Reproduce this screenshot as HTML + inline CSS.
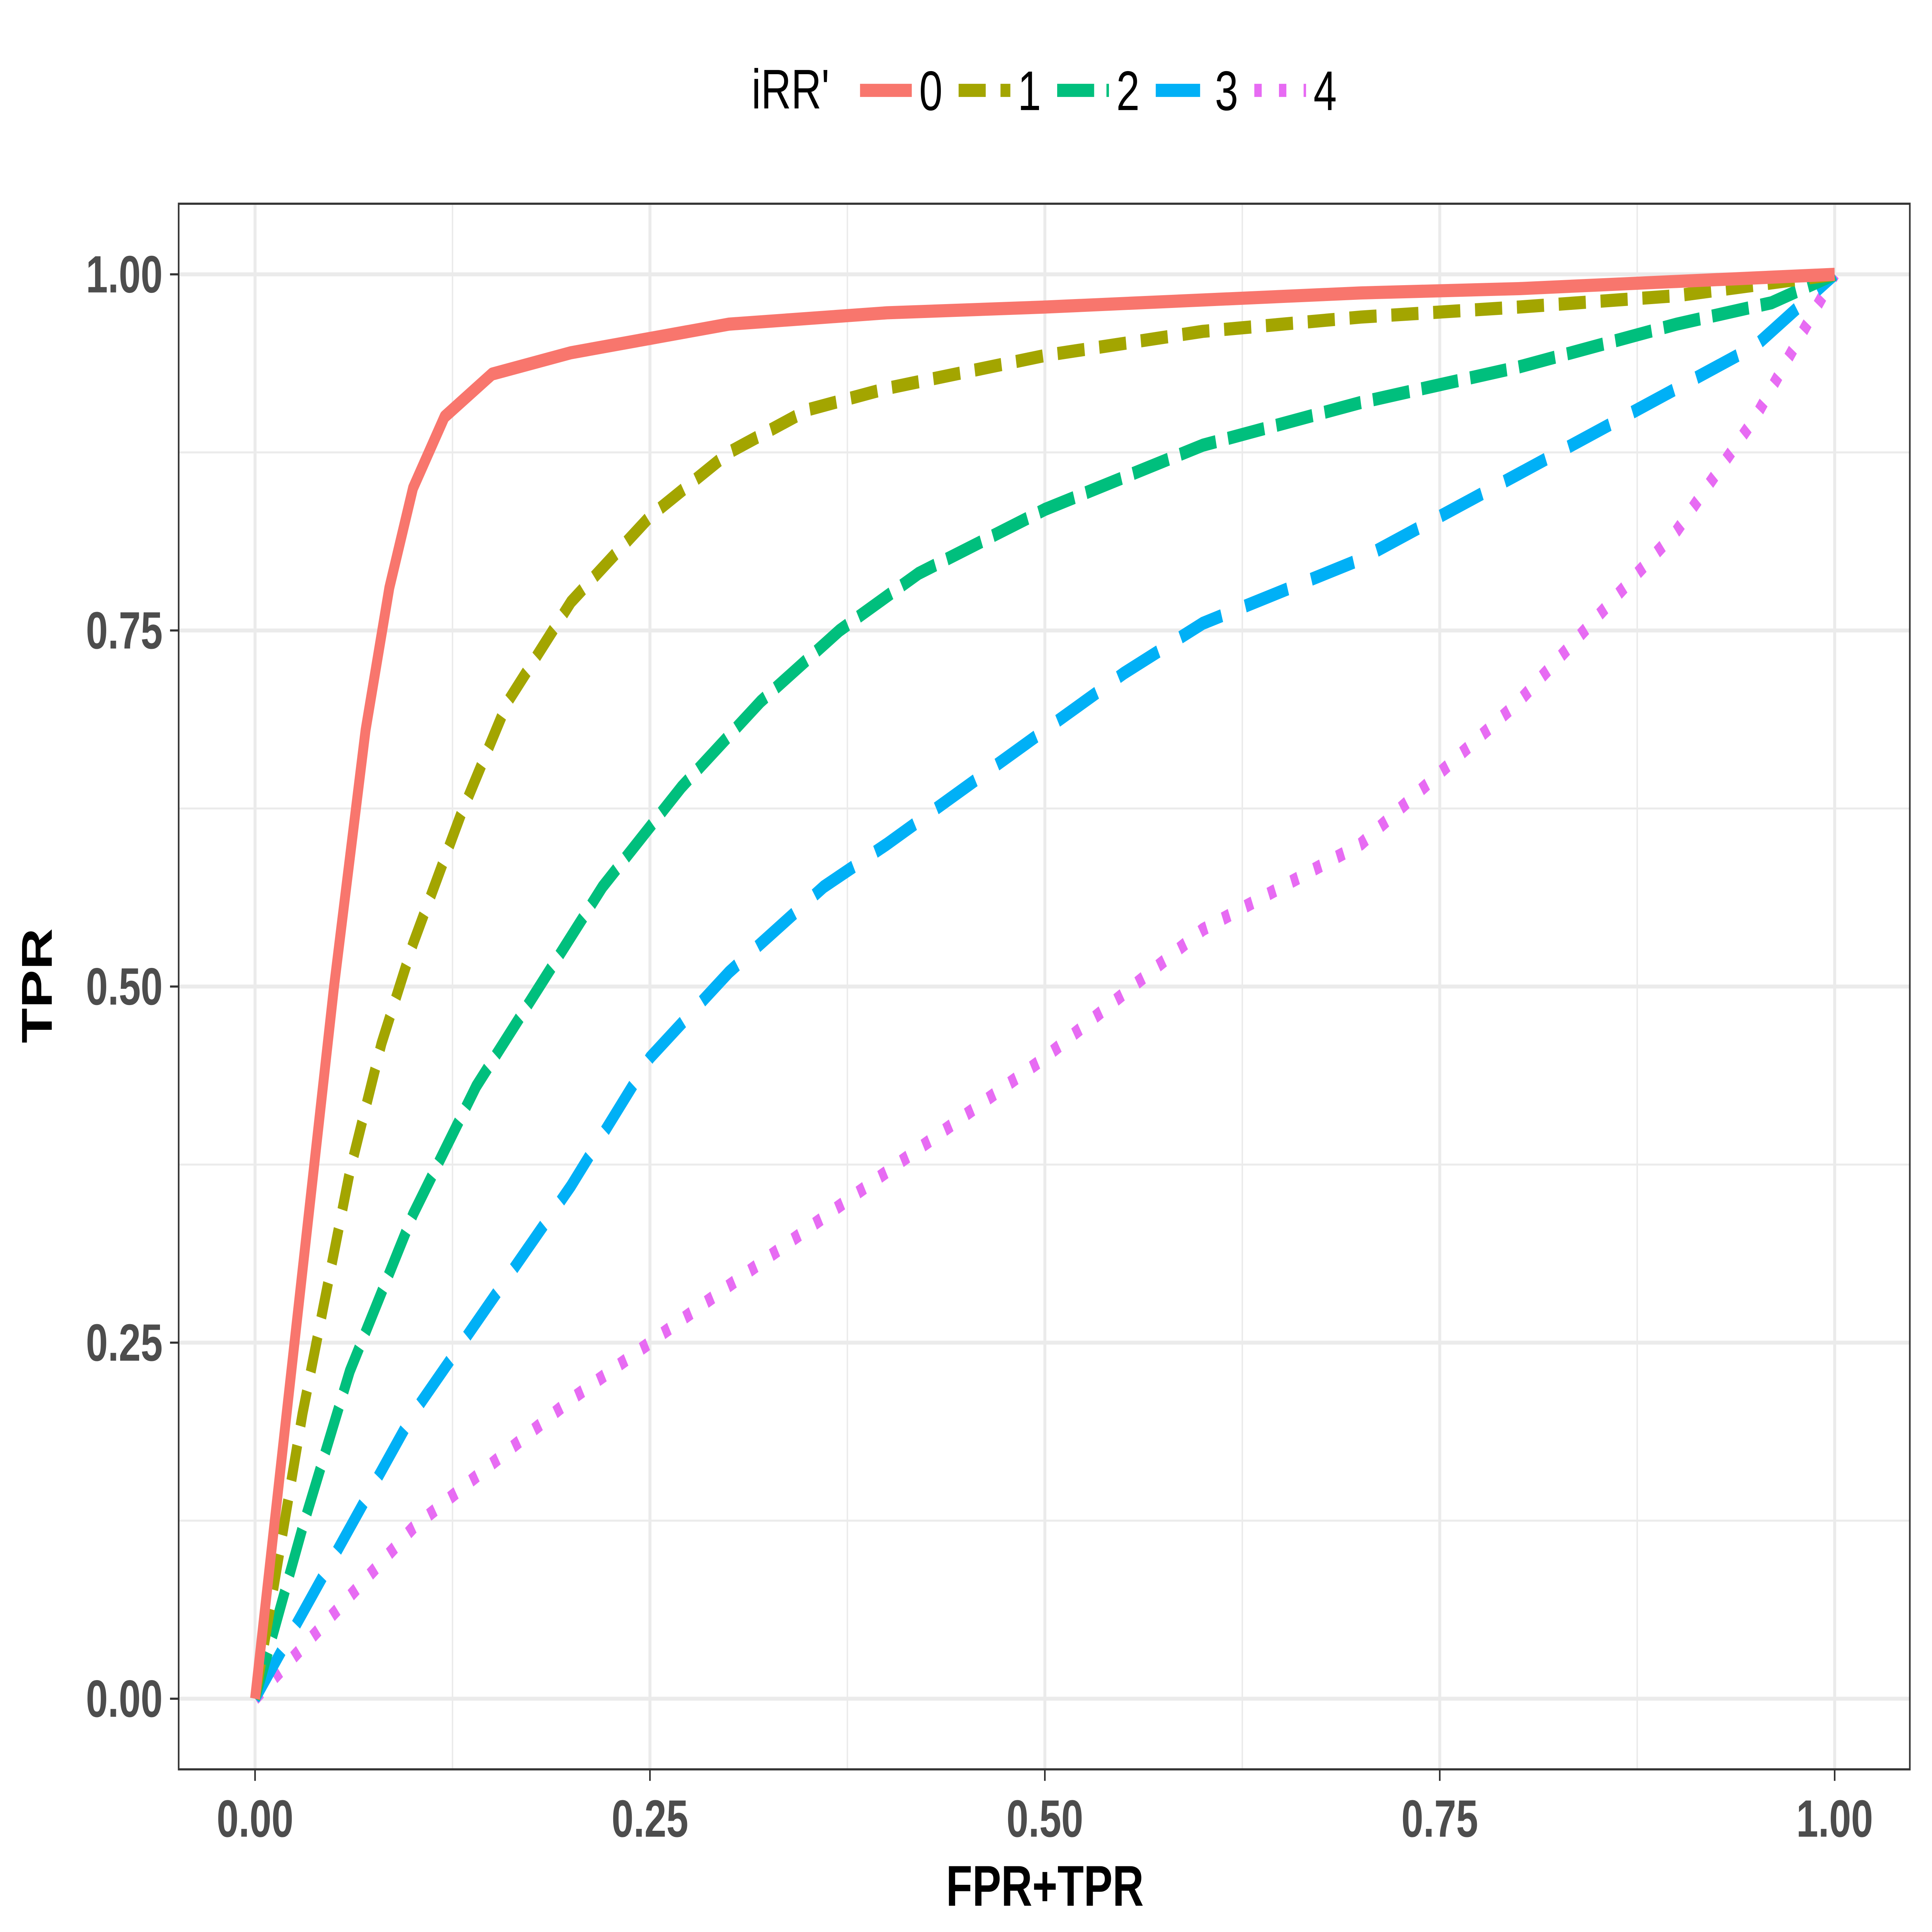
<!DOCTYPE html>
<html><head><meta charset="utf-8"><style>html,body{margin:0;padding:0;background:#fff;width:100vw;height:100vh;overflow:hidden}svg{display:block;width:100vw;height:100vh}</style></head>
<body>
<svg id="chart" viewBox="0 0 1568 1176" preserveAspectRatio="none" xmlns="http://www.w3.org/2000/svg" font-family="Liberation Sans, sans-serif">
<rect width="1568" height="1176" fill="#fff"/>
<g id="grid"></g>
<g id="series"></g>
<rect x="145" y="124" width="1405" height="953" fill="none" stroke="#333" stroke-width="1.3"/>
<g id="ticks"></g>
<text x="848" y="1160" text-anchor="middle" font-size="35" font-weight="bold">FPR+TPR</text>
<text transform="translate(42,600) rotate(-90)" text-anchor="middle" font-size="35" font-weight="bold">TPR</text>
<g id="legend"><text x="610" y="66" font-size="34">iRR'</text></g>
</svg>
<script>
const tickVals=[0,0.25,0.5,0.75,1];
const tickLabels=["0.00","0.25","0.50","0.75","1.00"];
const minorVals=[0.125,0.375,0.625,0.875];
const seriesNames=["0","1","2","3","4"];
const s0x=[0,0.02,0.05,0.07,0.085,0.1,0.12,0.15,0.2,0.25,0.3,0.4,0.5,0.6,0.7,0.8,0.9,1];
const s0y=[0,0.2,0.5,0.68,0.78,0.85,0.9,0.93,0.945,0.955,0.965,0.973,0.977,0.982,0.987,0.99,0.995,1];
const s1x=[0,0.03,0.06,0.08,0.1,0.13,0.16,0.2,0.25,0.3,0.35,0.4,0.5,0.6,0.7,0.8,0.9,1];
const s1y=[0,0.2,0.37,0.46,0.53,0.62,0.7,0.77,0.83,0.875,0.905,0.92,0.943,0.96,0.97,0.977,0.985,1];
const s2x=[0,0.03,0.06,0.1,0.14,0.18,0.22,0.27,0.32,0.37,0.42,0.5,0.6,0.7,0.8,0.9,0.96,1];
const s2y=[0,0.12,0.23,0.34,0.43,0.5,0.57,0.64,0.7,0.75,0.79,0.835,0.88,0.91,0.935,0.965,0.98,1];
const s3x=[0,0.05,0.1,0.15,0.2,0.25,0.3,0.36,0.4,0.45,0.5,0.55,0.6,0.7,0.8,0.85,0.9,0.95,1];
const s3y=[0,0.1,0.2,0.28,0.36,0.45,0.51,0.57,0.6,0.64,0.68,0.72,0.755,0.8,0.86,0.89,0.92,0.95,1];
const s4x=[0,0.1,0.2,0.3,0.4,0.5,0.6,0.7,0.8,0.85,0.9,0.95,1];
const s4y=[0,0.12,0.21,0.29,0.37,0.45,0.54,0.6,0.7,0.76,0.82,0.9,1];
const colors=["#F8766D","#A3A500","#00BF7D","#00B0F6","#E76BF3"];
const dashes=["","22,12","30,10","36,20","6,14"];
const xs=[s0x,s1x,s2x,s3x,s4x], ys=[s0y,s1y,s2y,s3y,s4y];
const X=v=>207+v*(1489-207), Y=v=>1034-v*(1034-167);
const NS="http://www.w3.org/2000/svg";
function mk(t,a,p){const e=document.createElementNS(NS,t);for(const k in a)e.setAttribute(k,a[k]);p.appendChild(e);return e;}
const grid=document.getElementById('grid');
minorVals.forEach(v=>{
 let l=mk('line',{x1:X(v),x2:X(v),y1:124,y2:1077,stroke:'#ebebeb','stroke-width':1.2},grid);
 
 
 l=mk('line',{x1:145,x2:1550,y1:Y(v),y2:Y(v),stroke:'#ebebeb','stroke-width':1.2},grid);
 
 
});
const ticks=document.getElementById('ticks');
tickVals.forEach((v,i)=>{
 let l=mk('line',{x1:X(v),x2:X(v),y1:124,y2:1077,stroke:'#ebebeb','stroke-width':2.4},grid);
 
 
 l=mk('line',{x1:145,x2:1550,y1:Y(v),y2:Y(v),stroke:'#ebebeb','stroke-width':2.4},grid);
 
 
 l=mk('line',{x1:X(v),x2:X(v),y1:1077,y2:1084,stroke:'#333','stroke-width':1.3},ticks);
 
 
 l=mk('line',{x1:138,x2:145,y1:Y(v),y2:Y(v),stroke:'#333','stroke-width':1.3},ticks);
 
 
 let t=mk('text',{x:X(v),y:1118,'text-anchor':'middle','font-size':32,'font-weight':'bold',fill:'#4d4d4d'},ticks);
 t.textContent=tickLabels[i];
 
 
 t=mk('text',{x:132,y:Y(v)+11,'text-anchor':'end','font-size':32,'font-weight':'bold',fill:'#4d4d4d'},ticks);
 t.textContent=tickLabels[i];
 
 
});
const series=document.getElementById('series');
for(let s=4;s>=0;s--){
 const d=xs[s].map((x,i)=>(i?'L':'M')+X(x).toFixed(1)+','+Y(ys[s][i]).toFixed(1)).join(' ');
 const p=mk('path',{d:d,fill:'none',stroke:colors[s],'stroke-width':8,'stroke-linejoin':'round'},series);
 if(dashes[s])p.setAttribute('stroke-dasharray',dashes[s]);
 
 
}
const legend=document.getElementById('legend');
const keyX=[698,778,858,938,1018];
seriesNames.forEach((n,i)=>{
 const l=mk('line',{x1:keyX[i],x2:keyX[i]+42,y1:55,y2:55,stroke:colors[i],'stroke-width':8},legend);
 if(dashes[i])l.setAttribute('stroke-dasharray',dashes[i]);
 
 
 const t=mk('text',{x:keyX[i]+48,y:67,'font-size':34},legend);
 t.textContent=n;
 
 
});
</script>
</body></html>
